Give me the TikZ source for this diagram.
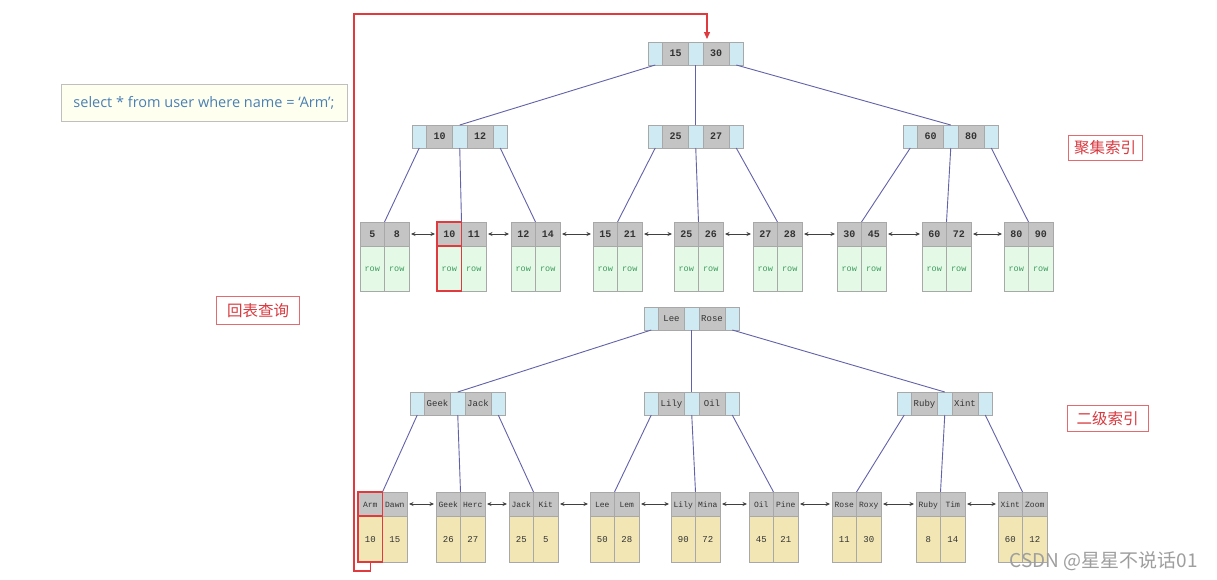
\documentclass[tikz,border=0pt]{standalone}
\usepackage{fontspec}
\setmainfont{Liberation Sans}
\setmonofont{Liberation Mono}
\newfontfamily\cjk{Noto Sans CJK SC}
\newfontfamily\sqlfont{Open Sans}
\usetikzlibrary{arrows.meta}
\definecolor{ptrblue}{HTML}{CFEAF3}
\definecolor{keygray}{HTML}{C4C4C4}
\definecolor{cellline}{HTML}{A8A8A8}
\definecolor{rowgreen}{HTML}{E4FAE6}
\definecolor{rowtext}{HTML}{3E9A5E}
\definecolor{valyellow}{HTML}{F2E6B4}
\definecolor{edgeblue}{HTML}{6262AA}
\definecolor{redline}{HTML}{E0393E}
\definecolor{labred}{HTML}{D93A40}
\definecolor{sqlblue}{HTML}{4A80B4}
\definecolor{sqlbg}{HTML}{FFFFF0}
\definecolor{keytext}{HTML}{333333}
\tikzset{
  cell/.style={draw=cellline, line width=0.8pt, inner sep=0pt, outer sep=0pt, anchor=north west, text=keytext, text height=1.6ex, text depth=0.3ex},
  ptr/.style={cell, fill=ptrblue, minimum width=14.5pt, minimum height=23pt},
  ikey/.style={cell, fill=keygray, minimum width=26pt, minimum height=23pt},
  lkey/.style={cell, fill=keygray, minimum width=24.5pt, minimum height=24pt},
  boldkey/.style={font=\ttfamily\bfseries\fontsize{10}{11}\selectfont},
  plainkey/.style={font=\ttfamily\fontsize{9}{10}\selectfont},
  smallkey/.style={font=\ttfamily\fontsize{8}{9}\selectfont},
  rowcell/.style={cell, fill=rowgreen, minimum width=24.5pt, minimum height=45pt, text=rowtext, font=\ttfamily\fontsize{8.5}{9}\selectfont},
  valcell/.style={cell, fill=valyellow, minimum width=24.5pt, minimum height=46pt, font=\ttfamily\fontsize{9}{10}\selectfont},
  edge/.style={draw=edgeblue, line width=0.9pt},
  dlink/.style={draw=black!75, line width=0.8pt, {Stealth[length=4.5pt,width=4pt]}-{Stealth[length=4.5pt,width=4pt]}, shorten <=2pt, shorten >=2pt},
  redbox/.style={draw=redline, line width=1.6pt},
  redpath/.style={draw=redline, line width=1.3pt, -{Triangle[length=7pt,width=6pt]}},
  lab/.style={draw=labred!75, line width=1pt, text=labred, font=\cjk\fontsize{15.5}{16}\selectfont, inner sep=0pt},
}
\newcommand\bpnode[6]{%
  \node[ptr] (#1a) at (#2,#3) {};
  \node[ikey,#6] (#1k) at (#1a.north east) {#4};
  \node[ptr] (#1b) at (#1k.north east) {};
  \node[ikey,#6] (#1l) at (#1b.north east) {#5};
  \node[ptr] (#1c) at (#1l.north east) {};}
\newcommand\bpleaf[9]{%
  \node[lkey,#9] (#1k) at (#2,#3) {#4};
  \node[lkey,#9] (#1l) at (#1k.north east) {#5};
  \node[#8] (#1v) at (#1k.south west) {#6};
  \node[#8] (#1w) at (#1l.south west) {#7};}
\begin{document}
\begin{tikzpicture}[x=1pt,y=-1pt]
\fill[white] (0,0) rectangle (1217,579);
\useasboundingbox (0,0) rectangle (1217,579);
% ---------- clustered index ----------
\bpnode{R1}{648}{42}{15}{30}{boldkey}
\bpnode{A1}{412}{125}{10}{12}{boldkey}
\bpnode{A2}{648}{125}{25}{27}{boldkey}
\bpnode{A3}{903}{125}{60}{80}{boldkey}
\bpleaf{L1}{360}{222}{5}{8}{row}{row}{rowcell}{boldkey}
\bpleaf{L2}{437}{222}{10}{11}{row}{row}{rowcell}{boldkey}
\bpleaf{L3}{511}{222}{12}{14}{row}{row}{rowcell}{boldkey}
\bpleaf{L4}{593}{222}{15}{21}{row}{row}{rowcell}{boldkey}
\bpleaf{L5}{674}{222}{25}{26}{row}{row}{rowcell}{boldkey}
\bpleaf{L6}{753}{222}{27}{28}{row}{row}{rowcell}{boldkey}
\bpleaf{L7}{837}{222}{30}{45}{row}{row}{rowcell}{boldkey}
\bpleaf{L8}{922}{222}{60}{72}{row}{row}{rowcell}{boldkey}
\bpleaf{L9}{1004}{222}{80}{90}{row}{row}{rowcell}{boldkey}
\draw[edge] (R1a.south) -- (A1b.north);
\draw[edge] (R1b.south) -- (A2b.north);
\draw[edge] (R1c.south) -- (A3b.north);
\draw[edge] (A1a.south) -- (L1k.north east);
\draw[edge] (A1b.south) -- (L2k.north east);
\draw[edge] (A1c.south) -- (L3k.north east);
\draw[edge] (A2a.south) -- (L4k.north east);
\draw[edge] (A2b.south) -- (L5k.north east);
\draw[edge] (A2c.south) -- (L6k.north east);
\draw[edge] (A3a.south) -- (L7k.north east);
\draw[edge] (A3b.south) -- (L8k.north east);
\draw[edge] (A3c.south) -- (L9k.north east);
\draw[dlink] (L1l.east) -- (L2k.west);
\draw[dlink] (L2l.east) -- (L3k.west);
\draw[dlink] (L3l.east) -- (L4k.west);
\draw[dlink] (L4l.east) -- (L5k.west);
\draw[dlink] (L5l.east) -- (L6k.west);
\draw[dlink] (L6l.east) -- (L7k.west);
\draw[dlink] (L7l.east) -- (L8k.west);
\draw[dlink] (L8l.east) -- (L9k.west);
% ---------- secondary index ----------
\bpnode{R2}{644}{307}{Lee}{Rose}{plainkey}
\bpnode{B1}{410}{392}{Geek}{Jack}{plainkey}
\bpnode{B2}{644}{392}{Lily}{Oil}{plainkey}
\bpnode{B3}{897}{392}{Ruby}{Xint}{plainkey}
\bpleaf{S1}{358}{492}{Arm}{Dawn}{10}{15}{valcell}{smallkey}
\bpleaf{S2}{436}{492}{Geek}{Herc}{26}{27}{valcell}{smallkey}
\bpleaf{S3}{509}{492}{Jack}{Kit}{25}{5}{valcell}{smallkey}
\bpleaf{S4}{590}{492}{Lee}{Lem}{50}{28}{valcell}{smallkey}
\bpleaf{S5}{671}{492}{Lily}{Mina}{90}{72}{valcell}{smallkey}
\bpleaf{S6}{749}{492}{Oil}{Pine}{45}{21}{valcell}{smallkey}
\bpleaf{S7}{832}{492}{Rose}{Roxy}{11}{30}{valcell}{smallkey}
\bpleaf{S8}{916}{492}{Ruby}{Tim}{8}{14}{valcell}{smallkey}
\bpleaf{S9}{998}{492}{Xint}{Zoom}{60}{12}{valcell}{smallkey}
\draw[edge] (R2a.south) -- (B1b.north);
\draw[edge] (R2b.south) -- (B2b.north);
\draw[edge] (R2c.south) -- (B3b.north);
\draw[edge] (B1a.south) -- (S1k.north east);
\draw[edge] (B1b.south) -- (S2k.north east);
\draw[edge] (B1c.south) -- (S3k.north east);
\draw[edge] (B2a.south) -- (S4k.north east);
\draw[edge] (B2b.south) -- (S5k.north east);
\draw[edge] (B2c.south) -- (S6k.north east);
\draw[edge] (B3a.south) -- (S7k.north east);
\draw[edge] (B3b.south) -- (S8k.north east);
\draw[edge] (B3c.south) -- (S9k.north east);
\draw[dlink] (S1l.east) -- (S2k.west);
\draw[dlink] (S2l.east) -- (S3k.west);
\draw[dlink] (S3l.east) -- (S4k.west);
\draw[dlink] (S4l.east) -- (S5k.west);
\draw[dlink] (S5l.east) -- (S6k.west);
\draw[dlink] (S6l.east) -- (S7k.west);
\draw[dlink] (S7l.east) -- (S8k.west);
\draw[dlink] (S8l.east) -- (S9k.west);
% ---------- red highlights ----------
\draw[redbox] (L2k.north west) rectangle (L2k.south east);
\draw[redbox] (L2v.north west) rectangle (L2v.south east);
\draw[redbox] (S1k.north west) rectangle (S1k.south east);
\draw[redbox] (S1v.north west) rectangle (S1v.south east);
\coordinate (rb) at (354,571);
\coordinate (rt) at (354,14);
\coordinate (rin) at ([xshift=4pt,yshift=3pt]R1l.north west);
\draw[redpath] (S1v.south) |- (rb) -- (rt) -| (rin);
% ---------- labels ----------
\node[draw=black!25, fill=sqlbg, line width=0.8pt, minimum width=286pt, minimum height=37pt, inner sep=0pt, text=sqlblue, font=\sqlfont\fontsize{14.5}{15}\selectfont] (sql) at (204,102.5) {select * from user where name = ‘Arm’;};
\node[lab, minimum width=74pt, minimum height=25pt] (ci) at (1105,147.5) {聚集索引};
\node[lab, minimum width=83pt, minimum height=28pt] (hb) at (258,310.5) {回表查询};
\node[lab, minimum width=81pt, minimum height=26pt] (si) at (1107.5,418.5) {二级索引};
\node[text=black!38, font=\cjk\fontsize{19}{20}\selectfont, inner sep=0pt] (wm) at (1104,561) {CSDN @星星不说话01};
\end{tikzpicture}
\end{document}
